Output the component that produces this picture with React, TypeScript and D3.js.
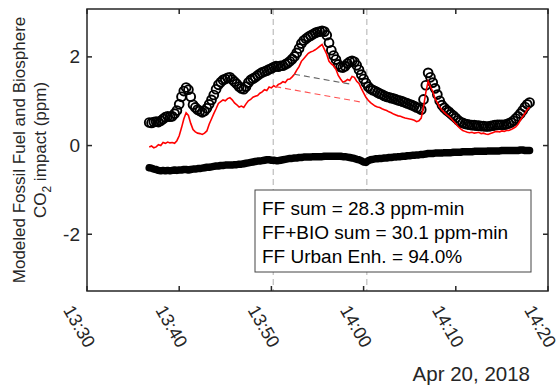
import React, { useRef, useEffect } from "react";
import * as d3 from "d3";

// sample times, minutes after 13:30 on Apr 20, 2018
const minutes = [
  6.75, 7, 7.25, 7.5, 7.75, 8, 8.25, 8.5,
  8.75, 9, 9.25, 9.5, 9.75, 10, 10.25, 10.5,
  10.75, 11, 11.25, 11.5, 11.75, 12, 12.25, 12.5,
  12.75, 13, 13.25, 13.5, 13.75, 14, 14.25, 14.5,
  14.75, 15, 15.25, 15.5, 15.75, 16, 16.25, 16.5,
  16.75, 17, 17.25, 17.5, 17.75, 18, 18.25, 18.5,
  18.75, 19, 19.25, 19.5, 19.75, 20, 20.25, 20.5,
  20.75, 21, 21.25, 21.5, 21.75, 22, 22.25, 22.5,
  22.75, 23, 23.25, 23.5, 23.75, 24, 24.25, 24.5,
  24.75, 25, 25.25, 25.5, 25.75, 26, 26.25, 26.5,
  26.75, 27, 27.25, 27.5, 27.75, 28, 28.25, 28.5,
  28.75, 29, 29.25, 29.5, 29.75, 30, 30.25, 30.5,
  30.75, 31, 31.25, 31.5, 31.75, 32, 32.25, 32.5,
  32.75, 33, 33.25, 33.5, 33.75, 34, 34.25, 34.5,
  34.75, 35, 35.25, 35.5, 35.75, 36, 36.25, 36.5,
  36.75, 37, 37.25, 37.5, 37.75, 38, 38.25, 38.5,
  38.75, 39, 39.25, 39.5, 39.75, 40, 40.25, 40.5,
  40.75, 41, 41.25, 41.5, 41.75, 42, 42.25, 42.5,
  42.75, 43, 43.25, 43.5, 43.75, 44, 44.25, 44.5,
  44.75, 45, 45.25, 45.5, 45.75, 46, 46.25, 46.5,
  46.75, 47, 47.25, 47.5, 47.75, 48,
];

// FF + BIO (open circles)
const totalImpact = [
  0.52, 0.51, 0.53, 0.54, 0.53, 0.56, 0.6, 0.64,
  0.66, 0.65, 0.66, 0.72, 0.79, 0.93, 1.1, 1.23,
  1.31, 1.26, 1.1, 0.92, 0.86, 0.81, 0.78, 0.75,
  0.78, 0.84, 0.93, 1.03, 1.14, 1.27, 1.37, 1.43,
  1.48, 1.5, 1.53, 1.54, 1.49, 1.44, 1.39, 1.33,
  1.29, 1.27, 1.33, 1.42, 1.48, 1.51, 1.54, 1.58,
  1.62, 1.65, 1.67, 1.69, 1.72, 1.74, 1.77, 1.79,
  1.78, 1.8, 1.8, 1.83, 1.86, 1.9, 1.95, 2.01,
  2.09, 2.19, 2.3, 2.37, 2.41, 2.45, 2.48, 2.51,
  2.54, 2.56, 2.57, 2.59, 2.57, 2.49, 2.32, 2.15,
  2.03, 1.94, 1.83, 1.77, 1.76, 1.79, 1.85, 1.89,
  1.91, 1.89, 1.81, 1.71, 1.6, 1.5, 1.41, 1.33,
  1.28, 1.25, 1.23, 1.2, 1.17, 1.15, 1.12, 1.1,
  1.09, 1.07, 1.06, 1.04, 1.02, 1.01, 0.99, 0.97,
  0.95, 0.93, 0.91, 0.89, 0.86, 0.84, 0.81, 1.04,
  1.36, 1.64, 1.54, 1.42, 1.29, 1.15, 1.01, 0.91,
  0.85, 0.8, 0.76, 0.71, 0.67, 0.62, 0.57, 0.53,
  0.51, 0.49, 0.48, 0.47, 0.46, 0.46, 0.45, 0.45,
  0.44, 0.44, 0.43, 0.43, 0.44, 0.45, 0.46, 0.47,
  0.47, 0.47, 0.47, 0.48, 0.5, 0.52, 0.56, 0.61,
  0.66, 0.72, 0.79, 0.87, 0.93, 0.97,
];

// fossil fuel (red line)
const ffImpact = [
  -0.03, -0.01, -0.05, -0.03, 0.02, 0.0, 0.07, 0.05,
  0.08, 0.06, 0.07, 0.05, 0.11, 0.22, 0.4, 0.6,
  0.74, 0.68, 0.5, 0.36, 0.31, 0.28, 0.27, 0.25,
  0.28, 0.33, 0.48, 0.6, 0.72, 0.83, 0.95, 0.99,
  1.03, 1.01, 1.06, 1.08, 1.03, 0.96, 0.92, 0.87,
  0.89, 0.86, 0.94, 1.01, 1.04, 1.09, 1.11, 1.13,
  1.18, 1.21, 1.26, 1.24, 1.32, 1.3, 1.35, 1.32,
  1.38, 1.4, 1.44, 1.42, 1.49, 1.5, 1.55, 1.61,
  1.7, 1.78, 1.9, 1.96, 2.02, 2.08, 2.11, 2.13,
  2.16, 2.2, 2.24, 2.28, 2.17, 2.06, 1.9, 1.84,
  1.8, 1.72, 1.58, 1.5, 1.43, 1.45, 1.49, 1.47,
  1.56, 1.54, 1.45, 1.4, 1.29, 1.19, 1.09, 1.02,
  0.97, 0.93, 0.89, 0.87, 0.86, 0.83, 0.81, 0.79,
  0.76, 0.74, 0.71, 0.69, 0.67, 0.66, 0.64, 0.62,
  0.61, 0.6, 0.59, 0.57, 0.54, 0.56, 0.62, 0.88,
  1.2, 1.45, 1.33, 1.22, 1.06, 0.97, 0.87, 0.8,
  0.75, 0.7, 0.66, 0.61, 0.55, 0.49, 0.43, 0.38,
  0.34, 0.32, 0.3, 0.29, 0.3, 0.28, 0.29, 0.3,
  0.27, 0.28, 0.26, 0.25, 0.27, 0.29, 0.31, 0.32,
  0.31, 0.33, 0.32, 0.34, 0.34, 0.36, 0.39, 0.42,
  0.48, 0.57, 0.65, 0.73, 0.81, 0.86,
];

// biosphere (bottom band)
const bioImpact = [
  -0.5, -0.51, -0.53, -0.54, -0.56, -0.57, -0.56, -0.57,
  -0.56, -0.57, -0.56, -0.55, -0.56, -0.55, -0.55, -0.54,
  -0.54, -0.55, -0.54, -0.53, -0.53, -0.52, -0.52, -0.51,
  -0.5, -0.49, -0.49, -0.48, -0.47, -0.46, -0.46, -0.45,
  -0.45, -0.44, -0.44, -0.44, -0.44, -0.43, -0.43, -0.42,
  -0.42, -0.41, -0.4, -0.39, -0.38, -0.37, -0.36, -0.35,
  -0.35, -0.34, -0.33, -0.32, -0.32, -0.33, -0.33, -0.34,
  -0.34, -0.33, -0.32, -0.31, -0.3, -0.29, -0.29, -0.28,
  -0.28, -0.27, -0.27, -0.26, -0.26, -0.26, -0.26, -0.25,
  -0.25, -0.25, -0.25, -0.25, -0.24, -0.24, -0.24, -0.24,
  -0.24, -0.24, -0.24, -0.24, -0.25, -0.25, -0.26, -0.27,
  -0.28, -0.29, -0.31, -0.32, -0.34, -0.37, -0.38, -0.34,
  -0.32, -0.31, -0.3, -0.3, -0.29, -0.29, -0.28, -0.28,
  -0.27, -0.27, -0.26, -0.26, -0.25, -0.25, -0.24, -0.24,
  -0.23, -0.23, -0.22, -0.22, -0.21, -0.21, -0.2, -0.2,
  -0.19, -0.18, -0.18, -0.18, -0.17, -0.17, -0.17, -0.17,
  -0.16, -0.16, -0.16, -0.16, -0.15, -0.15, -0.15, -0.15,
  -0.14, -0.14, -0.14, -0.14, -0.14, -0.13, -0.13, -0.13,
  -0.13, -0.13, -0.13, -0.12, -0.12, -0.12, -0.12, -0.12,
  -0.12, -0.11, -0.11, -0.11, -0.11, -0.11, -0.11, -0.11,
  -0.11, -0.1, -0.1, -0.11, -0.11, -0.11,
];

const windowEdges = [20.2, 30.35];
const ffBaseline = [[20.41, 1.33], [30.02, 0.97]];
const totalBaseline = [[22.46, 1.61], [28.73, 1.38]];
const yTicks = [-2, 0, 2];
const statLines = ["FF sum = 28.3 ppm-min", "FF+BIO sum = 30.1 ppm-min", "FF Urban Enh. = 94.0%"];
const dateLabel = "Apr 20, 2018";

const t0 = new Date(2018, 3, 20, 13, 30);
const toDate = (m: number) => new Date(t0.getTime() + m * 60000);

const W = 560, H = 389;
const plot = { left: 87, right: 548, top: 9, bottom: 291 };
const axisColor = "#262626";
const font = "'Liberation Sans', Arial, Helvetica, sans-serif";

const App = () => {
  const svgRef = useRef<SVGSVGElement>(null);

  useEffect(() => {
    const svg = d3.select(svgRef.current);
    svg.selectAll("*").remove();

    const x = d3.scaleTime()
      .domain([toDate(0), toDate(50)])
      .range([plot.left, plot.right]);
    const y = d3.scaleLinear()
      .domain([-3.28, 3.08])
      .range([plot.bottom, plot.top]);

    const pts = (vals: number[]) => minutes.map((m, i) => [m, vals[i]] as [number, number]);
    const line = d3.line<[number, number]>()
      .x(d => x(toDate(d[0])))
      .y(d => y(d[1]));

    // averaging window markers
    svg.append("g")
      .selectAll("line")
      .data(windowEdges)
      .enter()
      .append("line")
      .attr("x1", d => x(toDate(d)))
      .attr("x2", d => x(toDate(d)))
      .attr("y1", plot.top)
      .attr("y2", plot.bottom)
      .attr("stroke", "#bdbdbd")
      .attr("stroke-width", 1.2)
      .attr("stroke-dasharray", "6,4");

    // biosphere
    svg.append("path")
      .datum(pts(bioImpact))
      .attr("d", line)
      .attr("fill", "none")
      .attr("stroke", "#000")
      .attr("stroke-width", 7.5)
      .attr("stroke-linecap", "round")
      .attr("stroke-linejoin", "round");

    // FF + BIO
    svg.append("g")
      .selectAll("circle")
      .data(pts(totalImpact))
      .enter()
      .append("circle")
      .attr("cx", d => x(toDate(d[0])))
      .attr("cy", d => y(d[1]))
      .attr("r", 4.4)
      .attr("fill", "none")
      .attr("stroke", "#000")
      .attr("stroke-width", 1.9);

    // fossil fuel
    svg.append("path")
      .datum(pts(ffImpact))
      .attr("d", line)
      .attr("fill", "none")
      .attr("stroke", "#ff0000")
      .attr("stroke-width", 1.6);

    svg.append("path")
      .datum(totalBaseline as [number, number][])
      .attr("d", line)
      .attr("fill", "none")
      .attr("stroke", "#666")
      .attr("stroke-width", 1.1)
      .attr("stroke-dasharray", "6,4");

    svg.append("path")
      .datum(ffBaseline as [number, number][])
      .attr("d", line)
      .attr("fill", "none")
      .attr("stroke", "#ff5050")
      .attr("stroke-width", 1.1)
      .attr("stroke-dasharray", "6,4");

    // frame + inward ticks on all sides
    const tl = 5;
    const xt = x.ticks(d3.timeMinute.every(10));
    const frame = svg.append("g").attr("stroke", axisColor).attr("stroke-width", 1.5);
    frame.append("rect")
      .attr("x", plot.left).attr("y", plot.top)
      .attr("width", plot.right - plot.left).attr("height", plot.bottom - plot.top)
      .attr("fill", "none");
    xt.forEach(t => {
      const px = x(t);
      frame.append("line").attr("x1", px).attr("x2", px).attr("y1", plot.bottom).attr("y2", plot.bottom - tl);
      frame.append("line").attr("x1", px).attr("x2", px).attr("y1", plot.top).attr("y2", plot.top + tl);
    });
    yTicks.forEach(v => {
      const py = y(v);
      frame.append("line").attr("x1", plot.left).attr("x2", plot.left + tl).attr("y1", py).attr("y2", py);
      frame.append("line").attr("x1", plot.right).attr("x2", plot.right - tl).attr("y1", py).attr("y2", py);
    });

    const fmt = d3.timeFormat("%H:%M");
    svg.append("g")
      .selectAll("text")
      .data(xt)
      .enter()
      .append("text")
      .attr("transform", d => `translate(${x(d) - 19},${plot.bottom + 16}) rotate(60)`)
      .attr("dominant-baseline", "central")
      .attr("fill", axisColor)
      .style("font-family", font)
      .style("font-size", "18px")
      .text(d => fmt(d));

    svg.append("g")
      .selectAll("text")
      .data(yTicks)
      .enter()
      .append("text")
      .attr("x", plot.left - 7)
      .attr("y", d => y(d))
      .attr("text-anchor", "end")
      .attr("dominant-baseline", "central")
      .attr("fill", axisColor)
      .style("font-family", font)
      .style("font-size", "19px")
      .text(d => (d < 0 ? "-" + Math.abs(d) : String(d)));

    const midY = (plot.top + plot.bottom) / 2;
    svg.append("text")
      .attr("transform", `translate(25,${midY}) rotate(-90)`)
      .attr("text-anchor", "middle")
      .attr("fill", axisColor)
      .style("font-family", font)
      .style("font-size", "17px")
      .text("Modeled Fossil Fuel and Biosphere");
    const l2 = svg.append("text")
      .attr("transform", `translate(46,${midY}) rotate(-90)`)
      .attr("text-anchor", "middle")
      .attr("fill", axisColor)
      .style("font-family", font)
      .style("font-size", "17px");
    l2.append("tspan").text("CO");
    l2.append("tspan").attr("dy", 5).style("font-size", "12px").text("2");
    l2.append("tspan").attr("dy", -5).text(" impact (ppm)");

    // stats box
    const box = svg.append("g");
    box.append("rect")
      .attr("x", 255).attr("y", 190).attr("width", 276).attr("height", 82)
      .attr("fill", "#fff").attr("stroke", "#444").attr("stroke-width", 1);
    box.selectAll("text")
      .data(statLines)
      .enter()
      .append("text")
      .attr("x", 262)
      .attr("y", (d, i) => 215 + i * 24)
      .attr("fill", "#000")
      .style("font-family", font)
      .style("font-size", "19px")
      .text(d => d);

    svg.append("text")
      .attr("x", 530)
      .attr("y", 381)
      .attr("text-anchor", "end")
      .attr("fill", axisColor)
      .style("font-family", font)
      .style("font-size", "20.5px")
      .text(dateLabel);
  }, []);

  return (
    <svg
      ref={svgRef}
      width={W}
      height={H}
      style={{ position: "absolute", left: 0, top: 0, background: "#fff" }}
    />
  );
};

export default App;
